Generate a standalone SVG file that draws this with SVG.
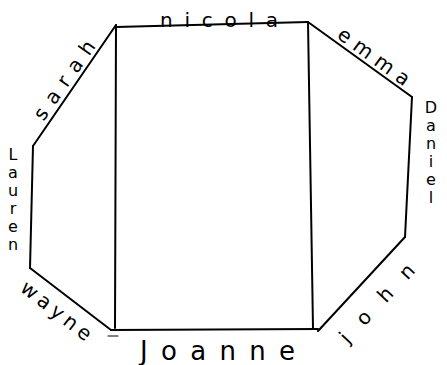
<svg xmlns="http://www.w3.org/2000/svg" width="447" height="365" viewBox="0 0 447 365">
<style>
.e{fill:none;stroke:#000;stroke-width:2;stroke-linecap:round;stroke-linejoin:round}
.t{font-family:"DejaVu Sans","Liberation Sans",sans-serif;font-size:20px;fill:#000}
.s{font-family:"DejaVu Sans","Liberation Sans",sans-serif;font-size:16px;fill:#000;text-anchor:middle}
</style>
<rect width="447" height="365" fill="#fff"/>
<g id="connectors">
<path class="e" d="M116,27 L308,22"/>
<path class="e" d="M308,22 L412,97"/>
<path class="e" d="M412,97 L405,237"/>
<path class="e" d="M405,237 L318,331"/>
<path class="e" d="M318,329 L111,330"/>
<path class="e" d="M111,330 L30,268"/>
<path class="e" d="M30,268 L33,146"/>
<path class="e" d="M33,146 L116,25"/>
<path class="e" d="M116,25 L115,328"/>
<path class="e" d="M308,22 L313,328"/>
<path class="e" d="M108,336 L118,336" style="stroke-width:1"/>
</g>
<g id="nicola"><text class="t" x="160" y="27" textLength="118" lengthAdjust="spacing">nicola</text></g>
<g id="emma"><text class="t" transform="translate(370,62) rotate(36)" x="-42" y="0" textLength="84" lengthAdjust="spacing">emma</text></g>
<g id="daniel">
<text class="s" x="431" y="113">D</text>
<text class="s" x="431" y="131">a</text>
<text class="s" x="431" y="149">n</text>
<text class="s" x="431" y="167">i</text>
<text class="s" x="431" y="185">e</text>
<text class="s" x="431" y="203">l</text>
</g>
<g id="john"><text class="t" transform="translate(382,308) rotate(-47)" x="-50" y="0" textLength="100" lengthAdjust="spacing">john</text></g>
<g id="joanne"><text class="t" x="140" y="360" style="font-size:26px" textLength="155" lengthAdjust="spacing">Joanne</text></g>
<g id="wayne"><text class="t" transform="translate(52,316) rotate(38)" x="-42" y="0" textLength="84" lengthAdjust="spacing">wayne</text></g>
<g id="lauren">
<text class="s" x="13" y="160">L</text>
<text class="s" x="13" y="178">a</text>
<text class="s" x="13" y="196">u</text>
<text class="s" x="13" y="214">r</text>
<text class="s" x="13" y="232">e</text>
<text class="s" x="13" y="250">n</text>
</g>
<g id="sarah"><text class="t" transform="translate(70,84) rotate(-55)" x="-46" y="0" textLength="92" lengthAdjust="spacing">sarah</text></g>
</svg>
